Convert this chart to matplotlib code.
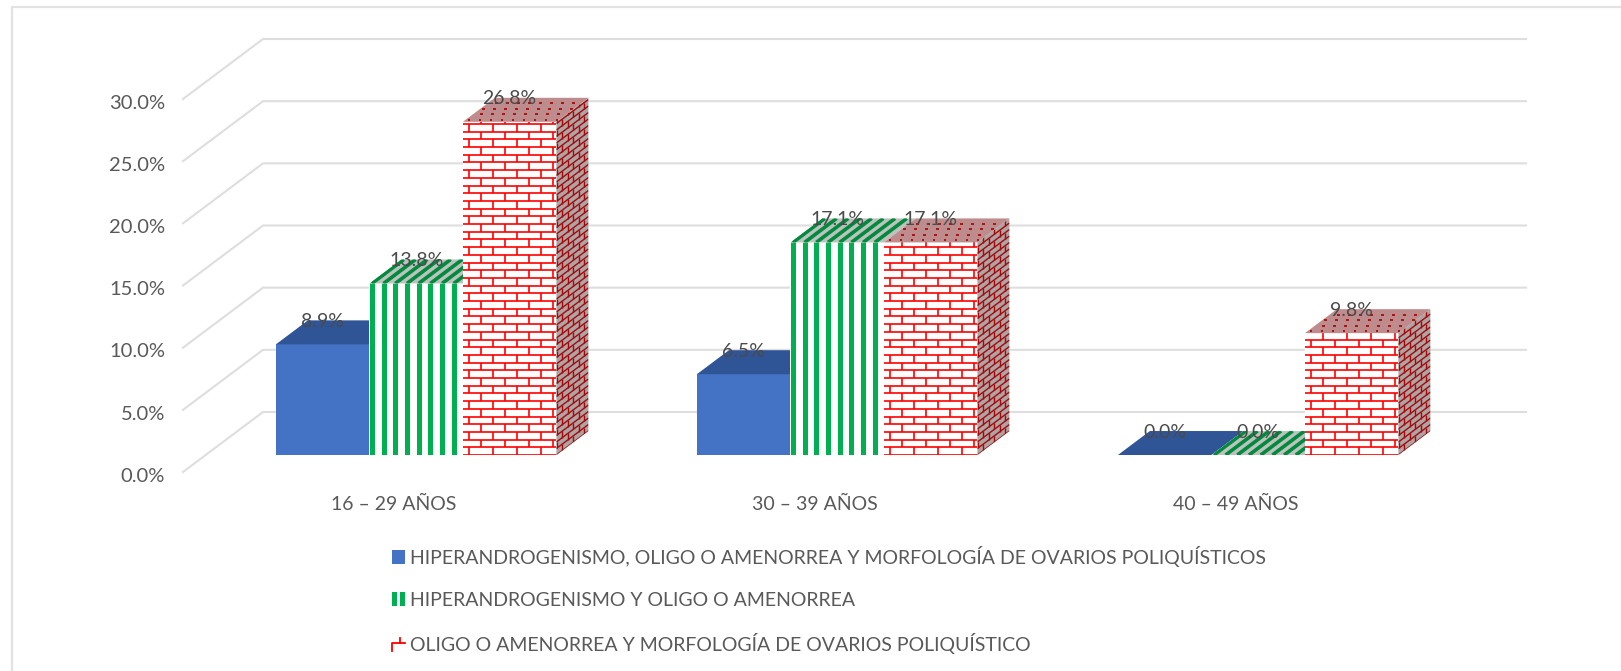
import numpy as np
import matplotlib
matplotlib.use("Agg")
import matplotlib.pyplot as plt
from matplotlib.collections import LineCollection
from matplotlib.legend_handler import HandlerBase
from matplotlib.lines import Line2D
from matplotlib.patches import Patch, Polygon, Rectangle
from matplotlib.transforms import ScaledTranslation

plt.rcParams["font.family"] = ["Lato", "DejaVu Sans"]

categories = ["16 – 29 AÑOS", "30 – 39 AÑOS", "40 – 49 AÑOS"]
series_names = [
    "HIPERANDROGENISMO, OLIGO O AMENORREA Y MORFOLOGÍA DE OVARIOS POLIQUÍSTICOS",
    "HIPERANDROGENISMO Y OLIGO O AMENORREA",
    "OLIGO O AMENORREA Y MORFOLOGÍA DE OVARIOS POLIQUÍSTICO",
]
hiper_oligo_morfo = [8.9, 6.5, 0.0]
hiper_oligo = [13.8, 17.1, 0.0]
oligo_morfo = [26.8, 17.1, 9.8]
y_ticks = [0, 5, 10, 15, 20, 25, 30]

W, H = 1621, 671
BLUE = "#4472C4"
BLUE_TOP = "#2F5597"
GREEN = "#00B050"
RED = "#FF0000"
GRID = "#DEDEDE"
TEXT = "#595959"

# pixels per data unit, used for the pseudo 3d depth and the fill patterns
PX_X = 421.0
PX_Y = 373.0 / 30
DEPTH_X = 80 / PX_X
DEPTH_Y = 60 / PX_Y
BAR_W = 93.5 / PX_X
BAR_FRONT = 0.283
BAR_DEPTH = 0.4

fig = plt.figure(figsize=(W / 100, H / 100), dpi=100)
left, right, top, bottom = 183, 1526, 39, 472
ax = fig.add_axes([left / W, 1 - bottom / H, (right - left) / W, (bottom - top) / H])
ax.set_xlim(-0.5, 2.5 + DEPTH_X)
ax.set_ylim(0, 30 + DEPTH_Y)
for s in ax.spines.values():
    s.set_visible(False)

ax.set_xticks(range(len(categories)), categories)
ax.set_yticks(y_ticks, [f"{v:.1f}%" for v in y_ticks])
ax.tick_params(axis="x", length=0, pad=17.5, labelsize=14, labelcolor=TEXT)
ax.tick_params(axis="y", length=0, pad=13, labelsize=14.5, labelcolor=TEXT)
nudge = ScaledTranslation(0, -2 / 72, fig.dpi_scale_trans)
for lab in ax.get_yticklabels():
    lab.set_transform(lab.get_transform() + nudge)

# walls
for v in y_ticks:
    ax.plot([-0.5, -0.5 + DEPTH_X, 2.5 + DEPTH_X], [v, v + DEPTH_Y, v + DEPTH_Y],
            color=GRID, lw=1.5, clip_on=False, zorder=1, solid_joinstyle="miter")


def to_data(origin, u, v, seg):
    # seg is (s0, t0, s1, t1) with s, t from 0 to 1 over the face
    seg = np.asarray(seg, dtype=float).reshape(-1, 4)
    p0 = origin + np.outer(seg[:, 0], u) + np.outer(seg[:, 1], v)
    p1 = origin + np.outer(seg[:, 2], u) + np.outer(seg[:, 3], v)
    return np.stack([p0, p1], axis=1)


def stripes(len_s, len_t, period=11.7):
    return [(s / len_s, 0, s / len_s, 1) for s in np.arange(2.5, len_s, period)]


def bricks(len_s, len_t, row=7.7, brick=24.0):
    segs = []
    for i, t in enumerate(np.arange(0, len_t + row, row)):
        segs.append((0, t / len_t, 1, t / len_t))
        for s in np.arange(-brick, len_s + brick, brick):
            s = s + (i % 2) * brick / 2 + 6
            segs.append((s / len_s, t / len_t, s / len_s, (t + row) / len_t))
    return segs


def dots(len_s, len_t, row=5.5, gap=11.0):
    segs = []
    for i, t in enumerate(np.arange(2, len_t, row)):
        for s in np.arange(2 + (i % 2) * gap / 2, len_s, gap):
            segs.append((s / len_s, t / len_t, (s + 2.5) / len_s, t / len_t))
    return segs


def face(origin, u, v, fill, zorder, segs=None, line=None, lw=1.0):
    origin = np.array(origin)
    u = np.array(u)
    v = np.array(v)
    poly = Polygon([origin, origin + u, origin + u + v, origin + v], closed=True,
                   facecolor=fill, edgecolor="none", zorder=zorder, clip_on=False)
    ax.add_patch(poly)
    if segs:
        lc = LineCollection(to_data(origin, u, v, segs), colors=line, linewidths=lw,
                            capstyle="butt", zorder=zorder)
        ax.add_collection(lc, autolim=False)
        lc.set_clip_path(poly)


def bar_3d(x, value, kind, zorder):
    dx = DEPTH_X * BAR_DEPTH
    dy = DEPTH_Y * BAR_DEPTH
    x0 = x + DEPTH_X * BAR_FRONT
    y0 = DEPTH_Y * BAR_FRONT
    h_px = value * PX_Y
    w_px = BAR_W * PX_X
    d_px = dy * PX_Y
    up = (0, value)
    across = (BAR_W, 0)
    back = (dx, dy)
    top_o = (x0, y0 + value)
    side_o = (x0 + BAR_W, y0)

    if kind == 0:
        if value > 0:
            face((x0, y0), across, up, BLUE, zorder)
        face(top_o, across, back, BLUE_TOP, zorder)
    elif kind == 1:
        if value > 0:
            face((x0, y0), across, up, "white", zorder, stripes(w_px, h_px), GREEN, 3.6)
        face(top_o, across, back, "#BDC2BD", zorder, stripes(w_px, d_px), "#008A3E", 2.6)
    else:
        face(side_o, back, up, "#ADA5A5", zorder, bricks(32, h_px, row=6.5, brick=11), "#A80808", 1.0)
        face((x0, y0), across, up, "white", zorder, bricks(w_px, h_px), RED, 1.2)
        face(top_o, across, back, "#BE8C8C", zorder, dots(w_px, d_px), "#AA1414", 1.4)
    ax.text(x0 + BAR_W / 2, y0 + value + 23 / PX_Y, f"{value:.1f}%",
            ha="center", va="center", fontsize=14, color="#4A4A4A", zorder=50)


for i in range(len(categories)):
    for k, vals in enumerate([hiper_oligo_morfo, hiper_oligo, oligo_morfo]):
        bar_3d(i + (k - 1.5) * BAR_W, vals[i], k, 10 + k)


class StripeHandle(HandlerBase):
    def create_artists(self, legend, orig, xd, yd, width, height, fontsize, trans):
        out = []
        for a in (0.0, 0.62):
            out.append(Rectangle((xd + a * width, yd), 0.38 * width, height,
                                 facecolor=GREEN, edgecolor="none", transform=trans))
        return out


class BrickHandle(HandlerBase):
    def create_artists(self, legend, orig, xd, yd, width, height, fontsize, trans):
        line = Line2D([xd, xd, xd + width], [yd, yd + 0.6 * height, yd + 0.6 * height],
                      color=RED, lw=1.3, transform=trans)
        tick = Line2D([xd + 0.65 * width] * 2, [yd + 0.6 * height, yd + 1.0 * height],
                      color=RED, lw=1.3, transform=trans)
        return [line, tick]


handles = [Patch(facecolor=BLUE, edgecolor="none"), Patch(), Patch()]
fig.legend(handles, series_names, loc="upper left", bbox_to_anchor=(392 / W, 1 - 546 / H),
           frameon=False, fontsize=14, labelcolor=TEXT, handlelength=0.65, handleheight=0.7,
           handletextpad=0.28, labelspacing=1.27, borderpad=0, borderaxespad=0,
           handler_map={handles[1]: StripeHandle(), handles[2]: BrickHandle()})

# outer chart border, only top and left show in the crop
fig.add_artist(Line2D([12 / W, 12 / W, 1], [0, 1 - 6.5 / H, 1 - 6.5 / H], color="#E2E2E2", lw=1.6))

fig.savefig("out.png", dpi=100)
